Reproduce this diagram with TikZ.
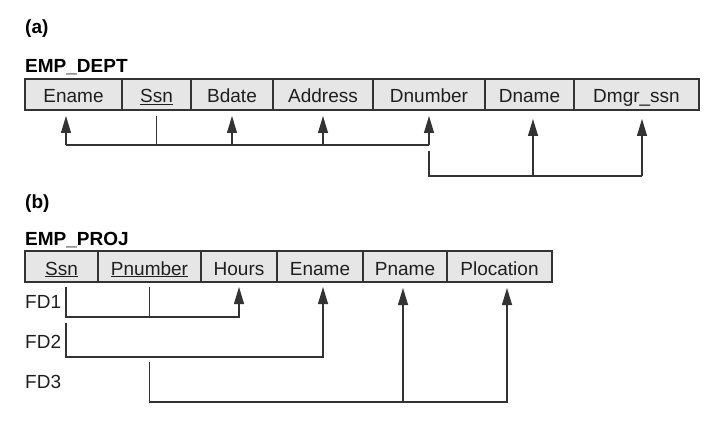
\documentclass[tikz,border=0pt]{standalone}
\usepackage{fontspec}
\setmainfont{Liberation Sans}
\usetikzlibrary{positioning,arrows.meta}

\definecolor{cellfill}{HTML}{E6E6E6}
\definecolor{ink}{HTML}{333333}

\tikzset{
  cell/.style={draw=ink, fill=cellfill, line width=1.1pt, minimum height=31pt,
    inner sep=0pt, outer sep=0pt, text height=17pt, text depth=0pt,
    font=\fontsize{19}{21}\selectfont, text=black!88},
  title/.style={font=\fontsize{19}{21}\selectfont\bfseries, inner sep=0pt, anchor=base west},
  fdlabel/.style={font=\fontsize{19}{21}\selectfont, inner sep=0pt, anchor=base west, text=black!88},
  fdline/.style={draw=ink, line width=1.1pt},
  fdarrow/.style={fdline, -{Triangle[length=17pt,width=10pt]}, shorten >=6pt}
}

\begin{document}
\begin{tikzpicture}[x=1pt,y=-1pt]
  \useasboundingbox (0,0) rectangle (712,441);

  % (a) EMP_DEPT
  \node[title] (parta) at (25,34) {(a)};
  \node[title] (empdept) at (25,73) {EMP\_DEPT};

  \node[cell, minimum width=97pt, anchor=north west] (enameA) at (25,79) {Ename};
  \node[cell, minimum width=69pt, right=0pt of enameA] (ssnA) {\underline{Ssn}};
  \node[cell, minimum width=82pt, right=0pt of ssnA] (bdateA) {Bdate};
  \node[cell, minimum width=100pt, right=0pt of bdateA] (addrA) {Address};
  \node[cell, minimum width=112pt, right=0pt of addrA] (dnumA) {Dnumber};
  \node[cell, minimum width=89pt, right=0pt of dnumA] (dnameA) {Dname};
  \node[cell, minimum width=125pt, right=0pt of dnameA] (dmgrA) {Dmgr\_ssn};

  \coordinate (busA) at (0,145);
  \coordinate (busB) at (0,176);

  \draw[fdline] ([xshift=-7.5pt]enameA.south |- busA) -- (dnumA.south |- busA);
  \draw[fdline] (ssnA.south |- busA) -- ([yshift=-6pt]ssnA.south);
  \draw[fdarrow] ([xshift=-7.5pt]enameA.south |- busA) -- ([xshift=-7.5pt]enameA.south);
  \draw[fdarrow] (bdateA.south |- busA) -- (bdateA.south);
  \draw[fdarrow] (addrA.south |- busA) -- (addrA.south);
  \draw[fdarrow] (dnumA.south |- busA) -- (dnumA.south);

  \draw[fdline] ([yshift=-6pt]dnumA.south |- busA) -- (dnumA.south |- busB)
    -- ([xshift=5.5pt]dmgrA.south |- busB);
  \draw[fdarrow, shorten >=9pt] ([xshift=3.5pt]dnameA.south |- busB) -- ([xshift=3.5pt]dnameA.south);
  \draw[fdarrow, shorten >=9pt] ([xshift=5.5pt]dmgrA.south |- busB) -- ([xshift=5.5pt]dmgrA.south);

  % (b) EMP_PROJ
  \node[title] (partb) at (25,208) {(b)};
  \node[title] (empproj) at (25,245) {EMP\_PROJ};

  \node[cell, minimum width=73pt, anchor=north west] (ssnB) at (25,251) {\underline{Ssn}};
  \node[cell, minimum width=103pt, right=0pt of ssnB] (pnumB) {\underline{Pnumber}};
  \node[cell, minimum width=76pt, right=0pt of pnumB] (hoursB) {Hours};
  \node[cell, minimum width=86pt, right=0pt of hoursB] (enameB) {Ename};
  \node[cell, minimum width=84pt, right=0pt of enameB] (pnameB) {Pname};
  \node[cell, minimum width=105pt, right=0pt of pnameB] (plocB) {Plocation};

  \node[fdlabel] (fdone) at (25,308) {FD1};
  \node[fdlabel] (fdtwo) at (25,348) {FD2};
  \node[fdlabel] (fdthree) at (25,388) {FD3};

  \coordinate (busF1) at (0,317);
  \coordinate (topF2) at (0,323);
  \coordinate (busF2) at (0,357);
  \coordinate (topF3) at (0,362);
  \coordinate (busF3) at (0,402);

  % FD1
  \draw[fdline] ([yshift=-5pt]pnumB.south) -- (pnumB.south |- busF1);
  \draw[fdarrow, shorten >=5pt] ([xshift=4.5pt,yshift=-5pt]ssnB.south)
    |- (hoursB.south |- busF1) -- (hoursB.south);
  % FD2
  \draw[fdarrow, shorten >=5pt] ([xshift=4.5pt]ssnB.south |- topF2)
    |- ([xshift=3pt]enameB.south |- busF2) -- ([xshift=3pt]enameB.south);
  % FD3
  \draw[fdarrow, shorten >=6pt] (pnumB.south |- topF3)
    |- ([xshift=7.5pt]plocB.south |- busF3) -- ([xshift=7.5pt]plocB.south);
  \draw[fdarrow, shorten >=6pt] ([xshift=-2pt]pnameB.south |- busF3) -- ([xshift=-2pt]pnameB.south);
\end{tikzpicture}
\end{document}
